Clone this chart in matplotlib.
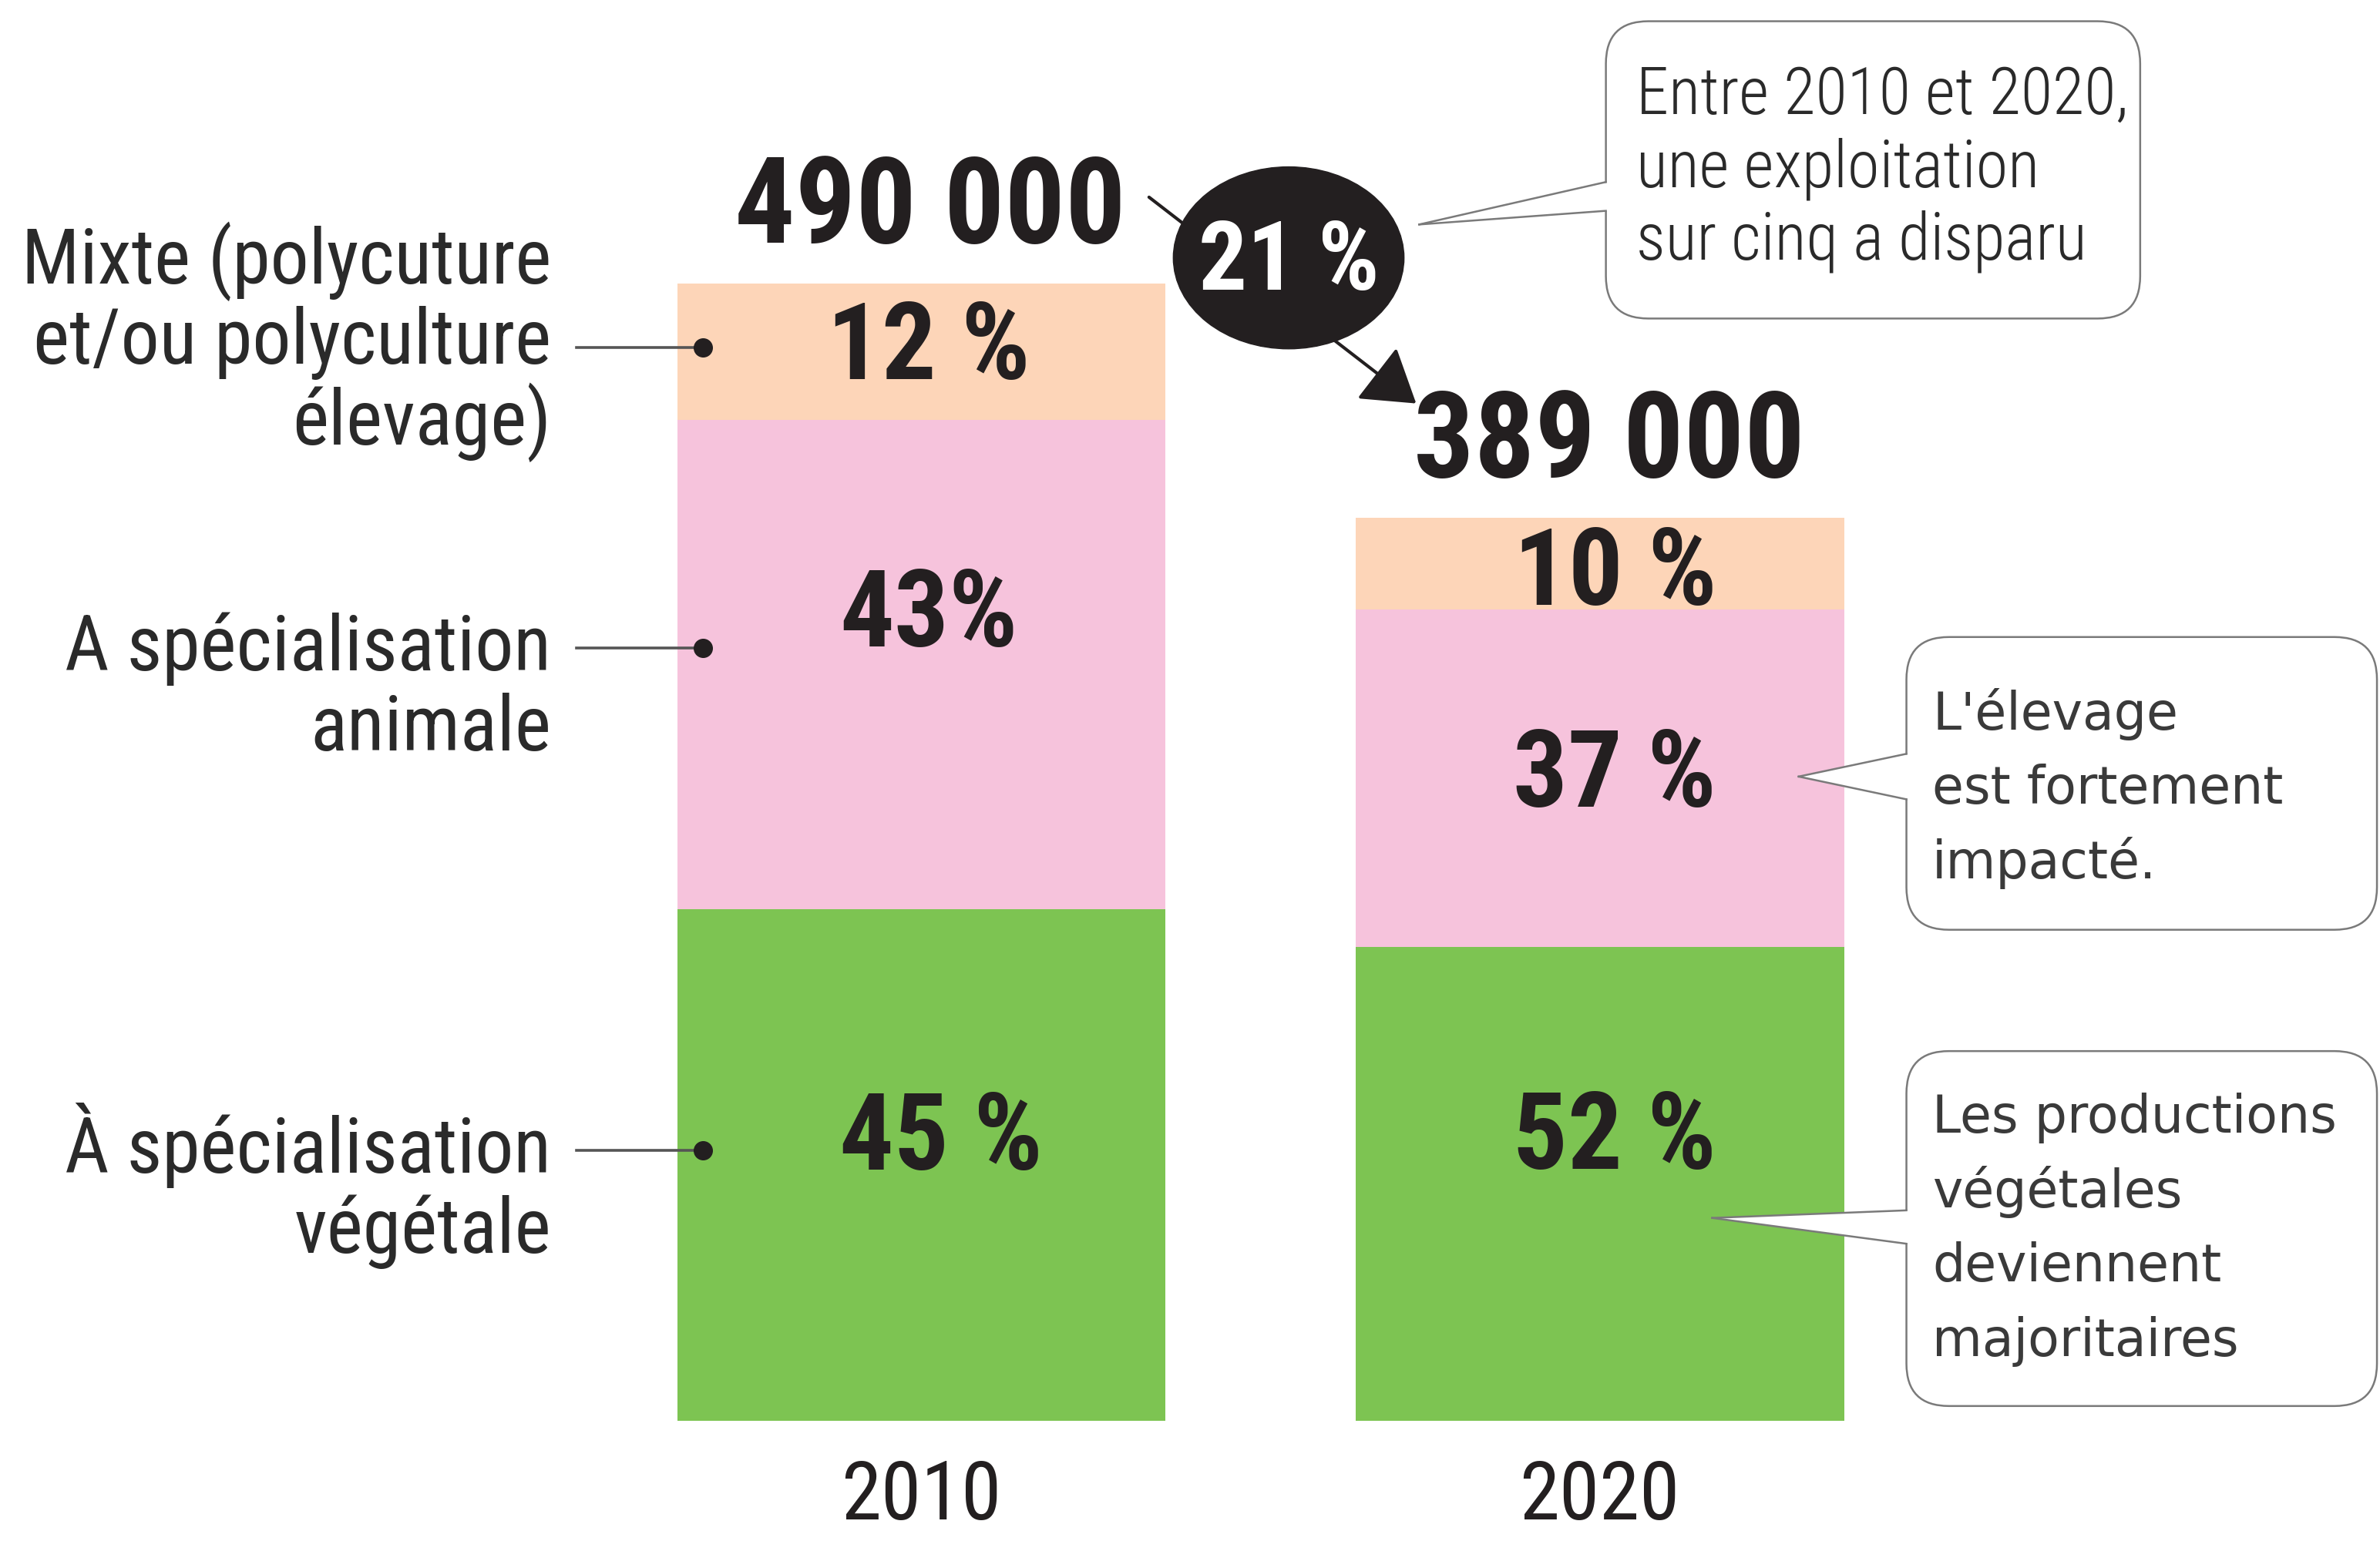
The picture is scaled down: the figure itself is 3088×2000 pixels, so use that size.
import matplotlib
matplotlib.use('Agg')
from matplotlib import pyplot as plt
from matplotlib.patches import FancyBboxPatch, Ellipse, Polygon
import numpy as np

# Data (stack order: bottom -> top)
years = ['2010', '2020']
totals = [490000, 389000]
totals_txt = ['490 000', '389 000']
shares_2010 = [45, 43, 12]
shares_2020 = [52, 37, 10]
share_txt_2010 = ['45 %', '43%', '12 %']
share_txt_2020 = ['52 %', '37 %', '10 %']
seg_colors = ['#7DC452', '#F6C3DC', '#FDD5B8']
left_labels = [['À spécialisation', 'végétale'],
               ['A spécialisation', 'animale'],
               ['Mixte (polycuture', 'et/ou polyculture', 'élevage)']]
change_txt = '21 %'
note_top = ['Entre 2010 et 2020,', 'une exploitation', 'sur cinq a disparu']
note_anim = ["L'élevage", 'est fortement', 'impacté.']
note_veg = ['Les productions', 'végétales', 'deviennent', 'majoritaires']

ink = '#231F20'
narrow = ['Roboto Condensed', 'PT Sans Narrow', 'DejaVu Sans']
wide = ['DejaVu Sans']

fig = plt.figure(figsize=(30.88, 20), dpi=100)

# reference layout is 1568 x 1016, bars drawn in value units
u = totals[0] / 750.0          # value units per reference pixel
ax = fig.add_axes([0, 0, 1, 1])
ax.set_xlim(-1.358, 2.150)
ax.set_ylim(-79 * u, 937 * u)
ax.axis('off')

# overlay in reference pixel units for notes
ov = fig.add_axes([0, 0, 1, 1])
ov.set_xlim(0, 1568)
ov.set_ylim(1016, 0)
ov.axis('off')
ov.patch.set_alpha(0)

shares = [shares_2010, shares_2020]
share_txt = [share_txt_2010, share_txt_2020]
# label baseline offset from segment centre (reference px, + = lower)
nudge_y = [[3, -12, 18], [-10, 19, 27]]
nudge_x = [[13, 5, 5], [10, 10, 10]]
lead_up = [10, 11, 3]
bw = 0.72

for i in range(2):
    s = np.array(shares[i], dtype=float)
    h = totals[i] * s / s.sum()
    bottoms = np.concatenate([[0], np.cumsum(h)[:-1]])
    ax.bar(i, h, bottom=bottoms, width=bw, color=seg_colors, linewidth=0)
    for j in range(3):
        yc = bottoms[j] + h[j] / 2
        ax.text(i + nudge_x[i][j] / 447.0, yc - nudge_y[i][j] * u, share_txt[i][j],
                ha='center', va='baseline', fontsize=101, fontweight='bold',
                color=ink, family=narrow)
        if i == 0:
            yl = yc + lead_up[j] * u
            ax.plot([-0.508, -0.322], [yl, yl], color='#555555', lw=2.6)
            ax.plot([-0.322], [yl], 'o', color=ink, ms=17)
    ax.text(i + 6 / 447.0, totals[i] + 27 * u, totals_txt[i], ha='center', va='baseline',
            fontsize=112, fontweight='bold', color=ink, family=narrow)
    ax.text(i, -65 * u, years[i], ha='center', va='baseline', fontsize=76,
            color=ink, family=narrow)


def put_lines(x, y0, txts, dy, **kw):
    for k, t in enumerate(txts):
        ov.text(x, y0 + k * dy, t, va='baseline', **kw)


# left category labels
for lab, yb in zip(left_labels, [773, 442, 187]):
    put_lines(363, yb, lab, 53, ha='right', fontsize=72, color='#2a2a2a', family=narrow)


def callout(x0, y0, x1, y1, tip, ya, yb):
    box = FancyBboxPatch((x0, y0), x1 - x0, y1 - y0,
                         boxstyle='round,pad=0,rounding_size=28',
                         fc='white', ec='#7a7a7a', lw=1.8, zorder=3)
    ov.add_patch(box)
    ov.add_patch(Polygon([tip, (x0 + 3, ya), (x0 + 3, yb)], closed=True,
                         fc='white', ec='none', zorder=4))
    ov.plot([tip[0], x0], [tip[1], ya], color='#7a7a7a', lw=1.8, zorder=5)
    ov.plot([tip[0], x0], [tip[1], yb], color='#7a7a7a', lw=1.8, zorder=5)


callout(1058, 14, 1410, 210, (935, 148), 120, 139)
put_lines(1078, 75, note_top, 48, ha='left', fontsize=61, color='#2a2a2a',
          family=narrow, fontweight='light', zorder=6)

callout(1256, 420, 1566, 613, (1185, 512), 497, 527)
put_lines(1273, 481, note_anim, 49, ha='left', fontsize=48, color='#3a3a3a',
          family=wide, zorder=6)

callout(1256, 693, 1566, 927, (1128, 803), 798, 820)
put_lines(1273, 747, note_veg, 49, ha='left', fontsize=48, color='#3a3a3a',
          family=wide, zorder=6)

# change bubble with arrow from 2010 total to 2020 total
ov.annotate('', xy=(933, 266), xytext=(757, 130),
            arrowprops=dict(arrowstyle='-|>,head_length=0.7,head_width=0.45',
                            mutation_scale=60, lw=3, color=ink,
                            shrinkA=0, shrinkB=0), zorder=2)
ov.add_patch(Ellipse((849, 170), 152, 120, color=ink, zorder=3))
ov.text(849, 191, change_txt, ha='center', va='baseline', fontsize=90,
        fontweight='bold', color='white', family=narrow, zorder=4)

fig.savefig('out.png', dpi=100)
